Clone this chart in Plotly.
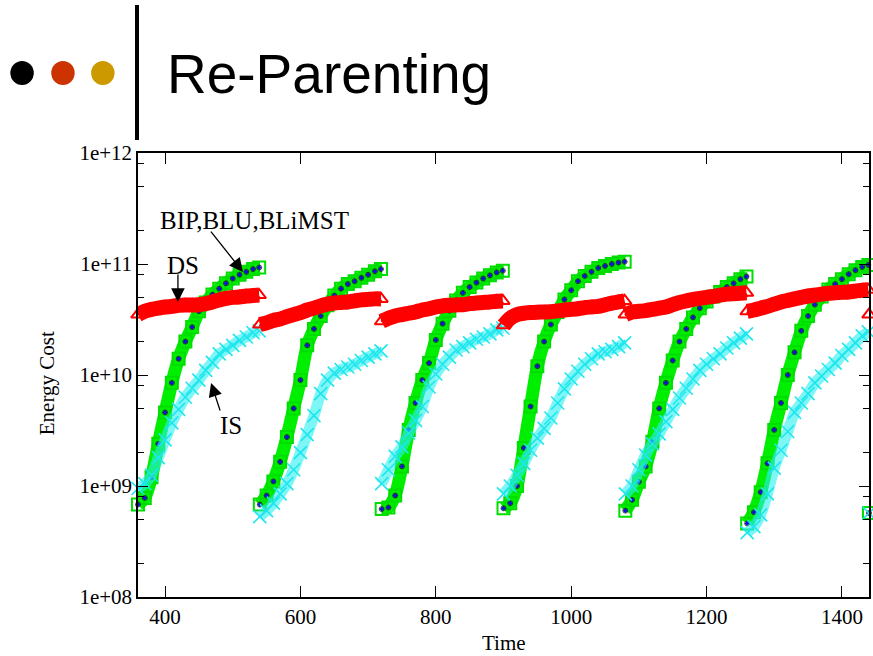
import plotly.graph_objects as go

# Sampling grid: each re-parenting episode lasts 180 time units
episode_start = [360, 540, 720, 900, 1080, 1260]
offsets = [0, 10, 20, 30, 40, 50, 60, 70, 80, 90, 100, 110, 120, 130, 140, 150, 160, 170, 179]
next_start = 1440

# Energy cost per episode (BIP, BLU and BLiMST coincide at this scale)
blimst_cost = [
    [6.8e8, 7.8e8, 1.2e9, 2.4e9, 4.6e9, 8.5e9, 1.4e10, 2.0e10, 2.7e10, 3.75e10, 4.5e10, 5.3e10, 6.0e10, 6.7e10, 7.4e10, 8.0e10, 8.5e10, 9.0e10, 9.3e10],
    [6.8e8, 8.2e8, 1.1e9, 1.65e9, 2.76e9, 5.0e9, 9.0e9, 1.85e10, 2.6e10, 3.4e10, 4.25e10, 5.2e10, 6.0e10, 6.6e10, 7.0e10, 7.5e10, 8.0e10, 8.6e10, 9.0e10],
    [6.2e8, 6.4e8, 8.2e8, 1.5e9, 3.2e9, 5.6e9, 9.0e9, 1.28e10, 2.07e10, 2.9e10, 3.8e10, 4.7e10, 5.5e10, 6.2e10, 6.8e10, 7.4e10, 7.9e10, 8.4e10, 8.7e10],
    [6.3e8, 7.0e8, 1.0e9, 2.2e9, 5.2e9, 1.2e10, 2.0e10, 2.85e10, 3.7e10, 4.8e10, 5.8e10, 7.0e10, 7.8e10, 8.5e10, 9.2e10, 9.6e10, 1.0e11, 1.03e11, 1.05e11],
    [6.0e8, 7.5e8, 1.09e9, 1.5e9, 2.5e9, 5.0e9, 8.5e9, 1.35e10, 2.0e10, 2.6e10, 3.3e10, 4.0e10, 4.6e10, 5.1e10, 5.6e10, 6.2e10, 6.7e10, 7.3e10, 7.7e10],
    [4.6e8, 5.8e8, 8.8e8, 1.6e9, 3.2e9, 5.6e9, 1.0e10, 1.6e10, 2.5e10, 3.4e10, 4.3e10, 5.1e10, 5.9e10, 6.6e10, 7.3e10, 8.1e10, 8.8e10, 9.4e10, 9.8e10],
]
blu_cost = blimst_cost
bip_cost = blimst_cost

ds_cost = [
    [3.5e10, 3.75e10, 3.9e10, 4.0e10, 4.1e10, 4.15e10, 4.25e10, 4.28e10, 4.28e10, 4.3e10, 4.4e10, 4.55e10, 4.75e10, 4.9e10, 5.0e10, 5.05e10, 5.15e10, 5.2e10, 5.25e10],
    [2.85e10, 2.95e10, 3.1e10, 3.2e10, 3.35e10, 3.5e10, 3.65e10, 3.85e10, 4.0e10, 4.2e10, 4.35e10, 4.45e10, 4.5e10, 4.55e10, 4.65e10, 4.75e10, 4.8e10, 4.85e10, 4.85e10],
    [3.05e10, 3.25e10, 3.4e10, 3.5e10, 3.6e10, 3.7e10, 3.85e10, 3.95e10, 4.1e10, 4.2e10, 4.25e10, 4.28e10, 4.3e10, 4.4e10, 4.45e10, 4.5e10, 4.55e10, 4.62e10, 4.65e10],
    [2.8e10, 3.25e10, 3.5e10, 3.6e10, 3.65e10, 3.68e10, 3.7e10, 3.72e10, 3.78e10, 3.85e10, 3.9e10, 3.95e10, 4.05e10, 4.1e10, 4.15e10, 4.3e10, 4.45e10, 4.55e10, 4.65e10],
    [3.5e10, 3.7e10, 3.75e10, 3.8e10, 3.9e10, 4.0e10, 4.1e10, 4.3e10, 4.5e10, 4.65e10, 4.8e10, 4.9e10, 5.0e10, 5.1e10, 5.25e10, 5.35e10, 5.4e10, 5.45e10, 5.5e10],
    [3.75e10, 3.85e10, 4.0e10, 4.15e10, 4.35e10, 4.55e10, 4.7e10, 4.85e10, 5.0e10, 5.15e10, 5.25e10, 5.35e10, 5.45e10, 5.5e10, 5.55e10, 5.6e10, 5.7e10, 5.8e10, 5.85e10],
]

is_cost = [
    [9.5e8, 1.05e9, 1.25e9, 1.8e9, 2.6e9, 3.7e9, 4.9e9, 6.3e9, 7.6e9, 9.0e9, 1.1e10, 1.3e10, 1.55e10, 1.7e10, 1.85e10, 2.05e10, 2.2e10, 2.4e10, 2.5e10],
    [5.3e8, 6.0e8, 7.0e8, 8.5e8, 1.05e9, 1.4e9, 2.0e9, 2.9e9, 4.3e9, 6.8e9, 9.0e9, 1.04e10, 1.12e10, 1.18e10, 1.25e10, 1.35e10, 1.45e10, 1.55e10, 1.65e10],
    [1.05e9, 1.4e9, 1.85e9, 2.25e9, 3.0e9, 3.9e9, 5.2e9, 7.8e9, 1.02e10, 1.25e10, 1.45e10, 1.68e10, 1.8e10, 1.95e10, 2.1e10, 2.2e10, 2.35e10, 2.55e10, 2.65e10],
    [8.5e8, 1.0e9, 1.25e9, 1.6e9, 2.1e9, 2.7e9, 3.3e9, 4.1e9, 5.6e9, 7.5e9, 9.2e9, 1.08e10, 1.25e10, 1.4e10, 1.55e10, 1.62e10, 1.7e10, 1.8e10, 1.95e10],
    [8.5e8, 1.0e9, 1.4e9, 1.9e9, 2.4e9, 2.95e9, 3.8e9, 4.9e9, 6.2e9, 7.6e9, 9.2e9, 1.1e10, 1.25e10, 1.4e10, 1.55e10, 1.75e10, 1.95e10, 2.15e10, 2.35e10],
    [3.8e8, 4.3e8, 5.5e8, 8.5e8, 1.45e9, 2.1e9, 3.1e9, 4.6e9, 5.6e9, 6.8e9, 8.5e9, 9.8e9, 1.12e10, 1.28e10, 1.5e10, 1.7e10, 1.95e10, 2.25e10, 2.45e10],
]

# First sample of the following episode, at the right edge
next_value = {"BLiMST": 5.7e8, "BLU": 5.7e8, "BIP": 5.7e8, "IS": 5.7e8, "DS": 3.5e10}

y_tickvals = [1e8, 1e9, 1e10, 1e11, 1e12]
y_ticktext = ["1e+08", "1e+09", "1e+10", "1e+11", "1e+12"]
y_minor = [m * 10 ** e for e in range(8, 12) for m in (2, 5, 8)]
x_tickvals = [400, 600, 800, 1000, 1200, 1400]

SERIF = "Liberation Serif, Times New Roman, serif"
SANS = "Liberation Sans, Arial, sans-serif"


def assemble(series, tail):
    xs, ys = [], []
    for start, vals in zip(episode_start, series):
        xs += [start + o for o in offsets]
        ys += list(vals)
        xs.append(None)
        ys.append(None)
    xs.append(next_start)
    ys.append(tail)
    return xs, ys


fig = go.Figure()

x, y = assemble(blimst_cost, next_value["BLiMST"])
fig.add_trace(go.Scatter(
    x=x, y=y, name="BLiMST", mode="lines+markers", connectgaps=False, cliponaxis=False,
    line=dict(color="#00ee00", width=13, shape="spline", smoothing=0.6),
    marker=dict(symbol="square-open", size=12, color="#00dd00", line=dict(width=2, color="#00dd00")),
))

x, y = assemble(blu_cost, next_value["BLU"])
fig.add_trace(go.Scatter(
    x=x, y=y, name="BLU", mode="markers", cliponaxis=False,
    marker=dict(symbol="diamond", size=4, color="#1010e0"),
))

x, y = assemble(bip_cost, next_value["BIP"])
fig.add_trace(go.Scatter(
    x=x, y=y, name="BIP", mode="markers", cliponaxis=False,
    marker=dict(symbol="circle-open", size=5, color="#202020", line=dict(width=0.8, color="#202020")),
))

x, y = assemble(is_cost, next_value["IS"])
fig.add_trace(go.Scatter(
    x=x, y=y, name="IS", mode="lines+markers", connectgaps=False, cliponaxis=False,
    line=dict(color="rgba(40,240,240,0.6)", width=11, shape="spline", smoothing=0.6),
    marker=dict(symbol="x-thin-open", size=13, color="#1ee6ee", line=dict(width=1.6, color="#1ee6ee")),
))

x, y = assemble(ds_cost, next_value["DS"])
fig.add_trace(go.Scatter(
    x=x, y=y, name="DS", mode="lines+markers", connectgaps=False, cliponaxis=False,
    line=dict(color="#ff0000", width=15, shape="spline", smoothing=0.6),
    marker=dict(symbol="triangle-up-open", size=12, color="#ff0000", line=dict(width=2, color="#ff0000")),
))

axis_common = dict(
    showline=True, linecolor="black", linewidth=1.5, mirror="ticks",
    ticks="inside", tickcolor="black", tickwidth=1.2, showgrid=False, zeroline=False,
    tickfont=dict(family=SERIF, size=21, color="black"),
)

fig.update_xaxes(
    range=[360, 1440], tickvals=x_tickvals, ticklen=11, **axis_common,
)
fig.update_yaxes(
    type="log", range=[8, 12], tickvals=y_tickvals, ticktext=y_ticktext, ticklen=10,
    minor=dict(tickvals=y_minor, ticks="inside", ticklen=6, tickcolor="black", tickwidth=1.2),
    **axis_common,
)

W, H = 873, 656
L, R, T, B = 138, 2, 153, 59
pw, ph = W - L - R, H - T - B


def px(xp):
    return (xp - L) / pw


def py(yp):
    return (H - B - yp) / ph


annotations = [
    dict(text="Re-Parenting", x=px(165), y=py(74), xref="paper", yref="paper",
         xanchor="left", yanchor="middle", showarrow=False,
         font=dict(family=SANS, size=55, color="black")),
    dict(text="Energy Cost", x=px(47), y=py(383), xref="paper", yref="paper",
         xanchor="center", yanchor="middle", textangle=-90, showarrow=False,
         font=dict(family=SERIF, size=21, color="black")),
    dict(text="Time", x=px(505), y=py(643), xref="paper", yref="paper",
         xanchor="center", yanchor="middle", showarrow=False,
         font=dict(family=SERIF, size=21, color="black")),
    # series labels
    dict(text="BIP,BLU,BLiMST", x=532, y=11.396, xref="x", yref="y", showarrow=False,
         font=dict(family=SERIF, size=25, color="black")),
    dict(text="DS", x=426, y=10.991, xref="x", yref="y", showarrow=False,
         font=dict(family=SERIF, size=25, color="black")),
    dict(text="IS", x=498, y=9.541, xref="x", yref="y", showarrow=False,
         font=dict(family=SERIF, size=25, color="black")),
]

# pointer arrows: (tail time, tail log-cost, head time, head log-cost)
arrows = [
    (466, 11.306, 515, 10.928),
    (419, 10.919, 419, 10.658),
    (482, 9.667, 468, 9.928),
]
for tx, ty, hx, hy in arrows:
    annotations.append(dict(
        text="", x=hx, y=hy, ax=tx, ay=ty, xref="x", yref="y", axref="x", ayref="y",
        showarrow=True, arrowhead=2, arrowsize=2.1, arrowwidth=1.3, arrowcolor="black",
        standoff=0, startstandoff=0,
    ))

shapes = [
    dict(type="circle", xref="paper", yref="paper", x0=px(10), x1=px(33.5), y0=py(85), y1=py(61),
         fillcolor="black", line=dict(width=0)),
    dict(type="circle", xref="paper", yref="paper", x0=px(51), x1=px(74.5), y0=py(85), y1=py(61),
         fillcolor="#cc3300", line=dict(width=0)),
    dict(type="circle", xref="paper", yref="paper", x0=px(91), x1=px(114.5), y0=py(85), y1=py(61),
         fillcolor="#cc9900", line=dict(width=0)),
    dict(type="line", xref="paper", yref="paper", x0=px(137), x1=px(137), y0=py(140), y1=py(5),
         line=dict(color="black", width=4)),
]

fig.update_layout(
    width=W, height=H, margin=dict(l=L, r=R, t=T, b=B),
    paper_bgcolor="white", plot_bgcolor="white", showlegend=False,
    annotations=annotations, shapes=shapes,
)

fig.write_html("out.html")
